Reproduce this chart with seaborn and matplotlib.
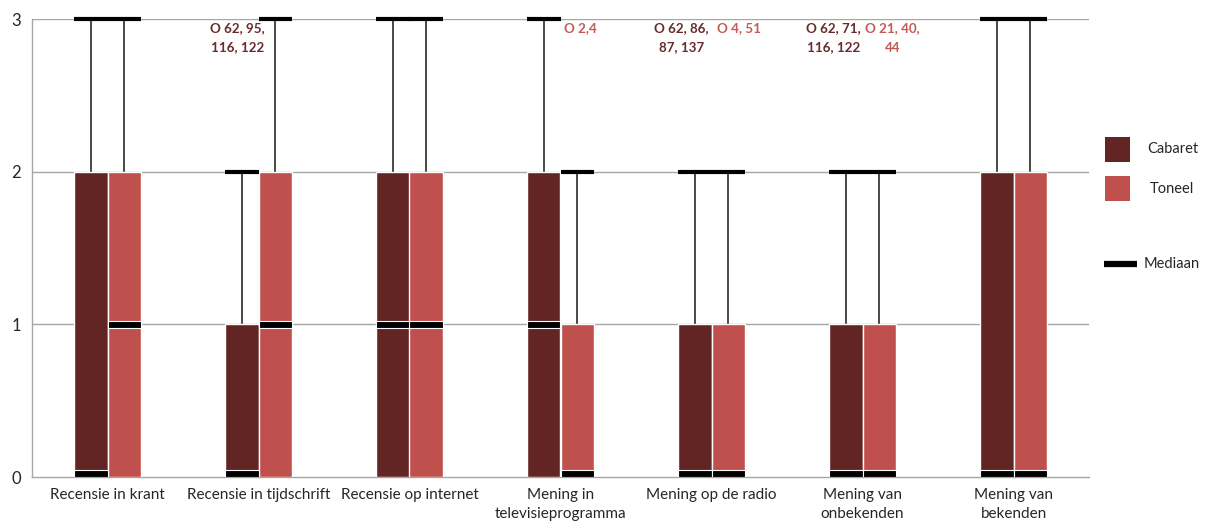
import matplotlib
matplotlib.use("Agg")
import matplotlib.pyplot as plt
from matplotlib.patches import Rectangle
from matplotlib.lines import Line2D
import numpy as np
import pandas as pd
import seaborn as sns

# ---- data ---------------------------------------------------------------
categories = [
    "Recensie in krant",
    "Recensie in tijdschrift",
    "Recensie op internet",
    "Mening in\ntelevisieprogramma",
    "Mening op de radio",
    "Mening van\nonbekenden",
    "Mening van\nbekenden",
]
series = ["Cabaret", "Toneel"]

cabaret_q1 = [0, 0, 0, 0, 0, 0, 0]
cabaret_q3 = [2, 1, 2, 2, 1, 1, 2]
cabaret_median = [0, 0, 1, 1, 0, 0, 0]
cabaret_max = [3, 2, 3, 3, 2, 2, 3]

toneel_q1 = [0, 0, 0, 0, 0, 0, 0]
toneel_q3 = [2, 2, 2, 1, 1, 1, 2]
toneel_median = [1, 1, 1, 0, 0, 0, 0]
toneel_max = [3, 3, 3, 2, 2, 2, 3]

# outlier case numbers: (category index, series, text)
outliers = [
    (1, "Cabaret", "O 62, 95,\n116, 122"),
    (3, "Toneel", "O 2,4"),
    (4, "Cabaret", "O 62, 86,\n87, 137"),
    (4, "Toneel", "O 4, 51"),
    (5, "Cabaret", "O 62, 71,\n116, 122"),
    (5, "Toneel", "O 21, 40,\n44"),
]
yticks = [0, 1, 2, 3]

# ---- styling ------------------------------------------------------------
colors = {"Cabaret": "#632523", "Toneel": "#C0504D"}
text_colors = {"Cabaret": "#6A2B2E", "Toneel": "#C65A57"}
grid_color = "#A6A6A6"
outlier_dx = [-0.03, 0.02, -0.09, 0.07, -0.08, 0.09]

sns.set_theme(style="white")
plt.rcParams["font.family"] = ["Lato", "DejaVu Sans"]

fig = plt.figure(figsize=(12.08, 5.29), dpi=100)
ax = fig.add_axes([32 / 1208, 1 - 477 / 529, (1089 - 32) / 1208, (477 - 19) / 529])

df = pd.DataFrame({
    "categorie": categories * 2,
    "groep": ["Cabaret"] * 7 + ["Toneel"] * 7,
    "box": list(np.subtract(cabaret_q3, cabaret_q1)) + list(np.subtract(toneel_q3, toneel_q1)),
})

sns.barplot(data=df, x="categorie", y="box", hue="groep", hue_order=series,
            palette=colors, saturation=1, width=0.44, edgecolor="white", linewidth=1,
            legend=False, ax=ax, zorder=3)

stats = {
    "Cabaret": (cabaret_median, cabaret_max, cabaret_q3),
    "Toneel": (toneel_median, toneel_max, toneel_q3),
}
band = 0.046
centers = {}
for name, container in zip(series, ax.containers):
    med, mx, q3 = stats[name]
    cs = []
    for i, bar in enumerate(container):
        x0, w = bar.get_x(), bar.get_width()
        xc = x0 + w / 2
        cs.append(xc)
        # whisker from box top to maximum, with cap
        if mx[i] > q3[i]:
            ax.vlines(xc, q3[i], mx[i], color="#3A3A3A", lw=1.3, zorder=2)
        ax.hlines(mx[i], x0, x0 + w, color="black", lw=3, zorder=4, clip_on=False)
        # median band
        y0 = max(med[i] - band / 2, 0)
        ax.add_patch(Rectangle((x0, y0), w, band, facecolor="black",
                               edgecolor="white", lw=0.8, zorder=5))
    centers[name] = cs

for (ci, name, txt), dx in zip(outliers, outlier_dx):
    ax.text(centers[name][ci] + dx, 2.98, txt, ha="center", va="top",
            color=text_colors[name], fontsize=9.6, fontweight="bold",
            linespacing=1.75, zorder=6)

ax.set_ylim(0, 3)
ax.set_xlim(-0.5, len(categories) - 0.5)
ax.set_yticks(yticks)
ax.set_yticklabels([str(t) for t in yticks], fontsize=12, color="#262626")
ax.set_xticks(range(len(categories)))
ax.set_xticklabels(categories, fontsize=11, color="#262626", linespacing=1.45)
ax.set_xticks(np.arange(-0.5, len(categories)), minor=True)
ax.tick_params(axis="x", which="major", length=0, pad=8)
ax.tick_params(axis="x", which="minor", length=5, color=grid_color, width=1, direction="out")
ax.tick_params(axis="y", length=4, color=grid_color, width=1, direction="out", pad=4)
ax.set_xlabel("")
ax.set_ylabel("")

for y in yticks[1:]:
    ax.axhline(y, color=grid_color, lw=1, zorder=1)
for side in ["top", "right"]:
    ax.spines[side].set_visible(False)
for side in ["left", "bottom"]:
    ax.spines[side].set_color(grid_color)
    ax.spines[side].set_linewidth(1)

# legend on the right
W, H = 1208, 529
for name, top in [("Cabaret", 137), ("Toneel", 176)]:
    fig.patches.append(Rectangle((1105 / W, 1 - (top + 25) / H), 25 / W, 25 / H,
                                 facecolor=colors[name], edgecolor="none",
                                 transform=fig.transFigure))
fig.text(1147 / W, 1 - 149 / H, "Cabaret", fontsize=10.5, color="#262626", va="center")
fig.text(1150 / W, 1 - 189 / H, "Toneel", fontsize=10.5, color="#262626", va="center")
fig.lines.append(Line2D([1104 / W, 1137 / W], [1 - 264 / H, 1 - 264 / H], color="black",
                        lw=4.5, solid_capstyle="butt", transform=fig.transFigure))
fig.text(1144 / W, 1 - 264 / H, "Mediaan", fontsize=10.5, color="#262626", va="center")

fig.savefig("out.png", dpi=100, facecolor="white")
